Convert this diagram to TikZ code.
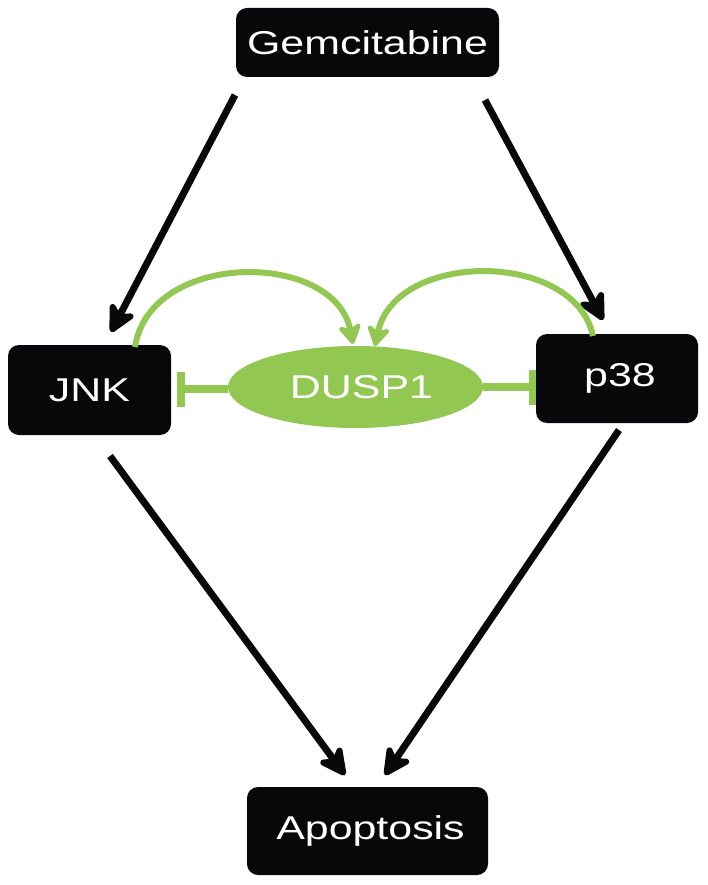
\documentclass[tikz,border=0pt]{standalone}
\usepackage{fontspec}
\newfontfamily\labfont[FakeStretch=1.3]{Liberation Sans}
\usetikzlibrary{arrows.meta,shapes.geometric}
\definecolor{dgreen}{RGB}{146,200,82}
\definecolor{boxblack}{RGB}{8,8,10}
\tikzset{
  blackbox/.style={fill=boxblack, draw=none, rounded corners=11pt, text=white,
    font=\labfont\fontsize{33}{36}\selectfont, inner sep=0pt},
  blackarrow/.style={line width=7pt, draw=boxblack,
    -{Stealth[length=34pt, width=34pt, inset=10pt, round]}},
  greenarrow/.style={line width=6pt, draw=dgreen,
    -{Stealth[length=24pt, width=28pt, inset=7pt, round]}},
  greeninhib/.style={line width=7.5pt, draw=dgreen, -{Bar[width=35pt, length=7pt]}},
}
\begin{document}
\begin{tikzpicture}[x=1pt, y=-1pt]
\useasboundingbox (0,0) rectangle (707,885);
\node[blackbox, minimum width=263pt, minimum height=69pt] (gem) at (367.5,42.5) {Gemcitabine};
\node[blackbox, minimum width=163pt, minimum height=90pt] (jnk) at (89.5,390) {JNK};
\node[blackbox, minimum width=162pt, minimum height=89pt] (p38) at (617,378.5) {\hspace{6pt}p38};
\node[blackbox, minimum width=241pt, minimum height=88pt] (apo) at (367.5,831) {\hspace{6pt}Apoptosis};
\node[ellipse, fill=dgreen, draw=none, minimum width=255pt, minimum height=82pt, inner sep=0pt,
  text=white, font=\labfont\fontsize{33}{36}\selectfont] (dusp) at (355.5,387) {\hspace{12pt}DUSP1};
% free ends
\coordinate (gemL) at (235,95);
\coordinate (jnkT) at (111,332);
\coordinate (gemR) at (485,100);
\coordinate (p38T) at (603,320);
\coordinate (jnkB) at (110,456);
\coordinate (apoL) at (345,775);
\coordinate (p38B) at (619,430);
\coordinate (apoR) at (385,775);
\coordinate (jnkG) at (135,347);
\coordinate (p38G) at (593,336);
\coordinate (duspL) at (353,344);
\coordinate (duspR) at (375,346);
\coordinate (jnkBar) at (177,389);
\coordinate (p38Bar) at (536,387);
% black arrows
\draw[blackarrow] (gemL) -- (jnkT);
\draw[blackarrow] (gemR) -- (p38T);
\draw[blackarrow] (jnkB) -- (apoL);
\draw[blackarrow] (p38B) -- (apoR);
% green activating curves
\draw[greenarrow] (jnkG) .. controls (150,250) and (335,250) .. (duspL);
\draw[greenarrow] (p38G) .. controls (575,250) and (395,250) .. (duspR);
% inhibitions
\draw[greeninhib] (dusp.west |- jnkBar) -- (jnkBar);
\draw[greeninhib] (dusp.east |- p38Bar) -- (p38Bar);
\end{tikzpicture}
\end{document}
